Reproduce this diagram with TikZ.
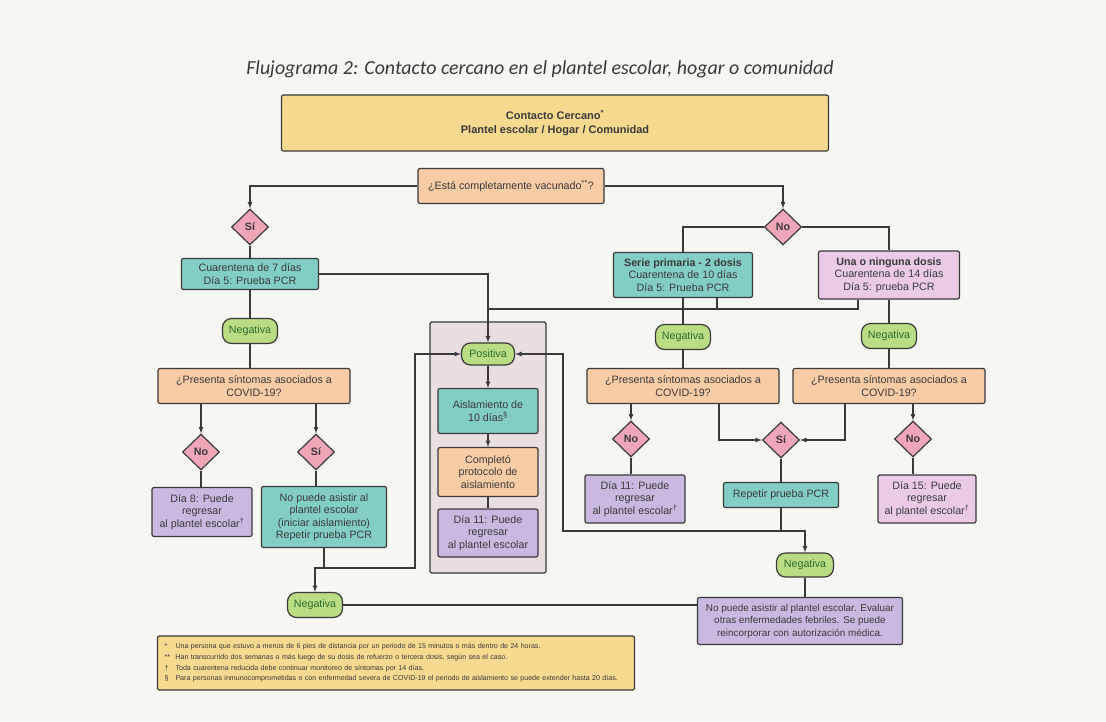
\documentclass[tikz,border=0pt]{standalone}
\usepackage{fontspec}
\setmainfont{Liberation Sans}
\newfontfamily\titlefont{Carlito}
\usetikzlibrary{shapes.geometric,positioning}

\definecolor{bgpaper}{HTML}{F6F6F3}
\definecolor{inkgray}{HTML}{3A3A3A}
\definecolor{yellowbox}{HTML}{F7D98F}
\definecolor{peachbox}{HTML}{F8CCA4}
\definecolor{tealbox}{HTML}{82CEC4}
\definecolor{pinkdia}{HTML}{EFA6B6}
\definecolor{greenpill}{HTML}{BADD84}
\definecolor{purplebox}{HTML}{C9B9E1}
\definecolor{pinkbox}{HTML}{EBCAE6}
\definecolor{graybox}{HTML}{E9DFE1}

\tikzstyle{block} = [rectangle, draw=inkgray, line width=1.2pt, rounded corners=2pt,
     align=center, text=inkgray, inner sep=2pt, font=\fontsize{10.7}{12.5}\selectfont]
\tikzstyle{decision} = [diamond, draw=inkgray, line width=1.2pt, fill=pinkdia, inner sep=0pt,
     minimum width=37pt, minimum height=36pt, text=inkgray, font=\bfseries\fontsize{10.7}{12.5}\selectfont]
\tikzstyle{pill} = [rectangle, draw=inkgray, line width=1.2pt, rounded corners=9pt, fill=greenpill,
     minimum width=55pt, minimum height=25pt, inner sep=1pt, text=green!25!inkgray, font=\fontsize{10.7}{12.5}\selectfont]
\tikzstyle{line} = [draw=inkgray, line width=1.2pt, -latex]
\tikzstyle{wire} = [draw=inkgray, line width=1.2pt]

\begin{document}
\begin{tikzpicture}[x=1pt, y=-1pt, node distance=57pt]
    \fill [bgpaper] (0,0) rectangle (1106,721);
    \useasboundingbox (0,0) rectangle (1106,721);

    % Title and top
    \node [text=inkgray] (title) at (540,69) {\titlefont\itshape\fontsize{19.9}{24}\selectfont Flujograma 2: Contacto cercano en el plantel escolar, hogar o comunidad};
    \node [block, fill=yellowbox, minimum width=547pt, minimum height=56pt, font=\bfseries\fontsize{11}{13.3}\selectfont] (contacto) at (555,123) {Contacto Cercano\textsuperscript{*}\\Plantel escolar / Hogar / Comunidad};
    \node [block, fill=peachbox, minimum width=186pt, minimum height=35pt] (vacunado) at (511,186) {¿Está completamente vacunado\textsuperscript{**}?};
    \node [decision] (si_top) at (250,227) {Sí};
    \node [decision] (no_top) at (783,227) {No};

    % Left column
    \node [block, fill=tealbox, minimum width=137pt, minimum height=31pt, below of=si_top, node distance=47pt] (cuar7) {Cuarentena de 7 días\\Día 5: Prueba PCR};
    \node [pill, below of=cuar7] (neg_a) {Negativa};
    \node [block, fill=peachbox, minimum width=192pt, minimum height=35pt] (sint_a) at (254,386) {¿Presenta síntomas asociados a\\COVID-19?};
    \node [decision] (no_a) at (201,452) {No};
    \node [decision] (si_a) at (316,452) {Sí};
    \node [block, fill=purplebox, minimum width=100pt, minimum height=49pt] (dia8) at (202,512) {Día 8: Puede\\regresar\\al plantel escolar\textsuperscript{†}};
    \node [block, fill=tealbox, minimum width=125pt, minimum height=61pt] (nopuede) at (324,517) {No puede asistir al\\plantel escolar\\(iniciar aislamiento)\\Repetir prueba PCR};
    \node [pill] (neg_d) at (315,605) {Negativa};

    % Middle column
    \node [rectangle, draw=inkgray, line width=1.2pt, rounded corners=2pt, fill=graybox, minimum width=116pt, minimum height=251pt] (caja) at (488,447.5) {};
    \node [pill, minimum width=53pt, minimum height=22pt] (positiva) at (488,354) {Positiva};
    \node [block, fill=tealbox, minimum width=100pt, minimum height=45pt, below of=positiva] (aislamiento) {Aislamiento de\\10 días\textsuperscript{§}};
    \node [block, fill=peachbox, minimum width=100pt, minimum height=49pt, below of=aislamiento, node distance=61pt] (completo) {Completó\\protocolo de\\aislamiento};
    \node [block, fill=purplebox, minimum width=100pt, minimum height=48pt, below of=completo, node distance=61pt] (dia11_c) {Día 11: Puede\\regresar\\al plantel escolar};

    % Right columns
    \node [block, fill=tealbox, minimum width=139pt, minimum height=45pt] (serie) at (683,275) {\textbf{Serie primaria - 2 dosis}\\Cuarentena de 10 días\\Día 5: Prueba PCR};
    \node [block, fill=pinkbox, minimum width=141pt, minimum height=48pt] (una) at (889,275) {\textbf{Una o ninguna dosis}\\Cuarentena de 14 días\\Día 5: prueba PCR};
    \node [pill, below of=serie, node distance=62pt] (neg_b) {Negativa};
    \node [pill, below of=una, node distance=61pt] (neg_c) {Negativa};
    \node [block, fill=peachbox, minimum width=192pt, minimum height=35pt, below of=neg_b, node distance=49pt] (sint_b) {¿Presenta síntomas asociados a\\COVID-19?};
    \node [block, fill=peachbox, minimum width=192pt, minimum height=35pt] (sint_c) at (889,386) {¿Presenta síntomas asociados a\\COVID-19?};
    \node [decision] (no_b) at (631,439) {No};
    \node [decision] (si_b) at (781,440) {Sí};
    \node [decision] (no_c) at (913,439) {No};
    \node [block, fill=purplebox, minimum width=100pt, minimum height=48pt] (dia11_b) at (635,499) {Día 11: Puede\\regresar\\al plantel escolar\textsuperscript{†}};
    \node [block, fill=tealbox, minimum width=115pt, minimum height=25pt, below of=si_b, node distance=55pt] (repetir) {Repetir prueba PCR};
    \node [block, fill=pinkbox, minimum width=98pt, minimum height=48pt] (dia15) at (927,499) {Día 15: Puede\\regresar\\al plantel escolar\textsuperscript{†}};
    \node [pill, minimum width=57pt, minimum height=24pt] (neg_e) at (805,565) {Negativa};
    \node [block, fill=purplebox, minimum width=205pt, minimum height=47pt, font=\fontsize{9.9}{12.5}\selectfont] (final) at (800,621) {No puede asistir al plantel escolar. Evaluar\\otras enfermedades febriles. Se puede\\reincorporar con autorización médica.};

    % Notes
    \node [block, fill=yellowbox, minimum width=477pt, minimum height=54pt, inner sep=7pt, text width=463pt, align=left, font=\fontsize{7.1}{10.6}\selectfont] (notas) at (396,663) {\makebox[11pt][l]{*}Una persona que estuvo a menos de 6 pies de distancia por un periodo de 15 minutos o más dentro de 24 horas.\\
    \makebox[11pt][l]{**}Han transcurrido dos semanas o más luego de su dosis de refuerzo o tercera dosis, según sea el caso.\\
    \makebox[11pt][l]{†}Toda cuarentena reducida debe continuar monitoreo de síntomas por 14 días.\\
    \makebox[11pt][l]{§}Para personas inmunocomprometidas o con enfermedad severa de COVID-19 el periodo de aislamiento se puede extender hasta 20 días.};

    % Junctions
    \coordinate (bus) at (488,309);
    \coordinate (split_a) at (324,568);
    \coordinate (bend_a) at (415,568);
    \coordinate (split_b) at (781,531);
    \coordinate (bend_b) at (563,531);

    % Draw edges
    \path [line] (vacunado.west) -| (si_top.north);
    \path [line] (vacunado.east) -| (no_top.north);
    \path [wire] (no_top.west) -| (serie.north);
    \path [wire] (no_top.east) -| (una.north);
    \path [wire] (si_top) -- (cuar7);
    \path [wire] (cuar7) -- (neg_a);
    \path [wire] (neg_a) -- (neg_a |- sint_a.north);
    \path [line] (cuar7.east) -| (positiva.north);
    \path [wire] ([xshift=34pt]serie.south) |- (bus);
    \path [wire] ([xshift=-31pt]una.south) |- (bus);
    \path [wire] (serie) -- (neg_b);
    \path [wire] (neg_b) -- (sint_b);
    \path [wire] (una) -- (neg_c);
    \path [wire] (neg_c) -- (sint_c);

    \path [line] (sint_a.south -| no_a) -- (no_a);
    \path [line] (sint_a.south -| si_a) -- (si_a);
    \path [wire] (no_a) -- (no_a |- dia8.north);
    \path [wire] (si_a) -- (si_a |- nopuede.north);
    \path [wire] (nopuede.south) -- (split_a);
    \path [line] (split_a) -| (neg_d.north);
    \path [line] (split_a) -- (bend_a) |- (positiva.west);

    \path [line] (positiva) -- (aislamiento);
    \path [line] (aislamiento) -- (completo);
    \path [wire] (completo) -- (dia11_c);

    \path [line] (sint_b.south -| no_b) -- (no_b);
    \path [wire] (no_b) -- (no_b |- dia11_b.north);
    \path [line] ([xshift=36pt]sint_b.south) |- (si_b.west);
    \path [line] ([xshift=-44pt]sint_c.south) |- (si_b.east);
    \path [line] (sint_c.south -| no_c) -- (no_c);
    \path [wire] (no_c) -- (no_c |- dia15.north);
    \path [wire] (si_b) -- (repetir);
    \path [wire] (repetir) -- (split_b);
    \path [line] (split_b) -- (bend_b) |- (positiva.east);
    \path [line] (split_b) -| (neg_e.north);
    \path [wire] (neg_e) -- (neg_e |- final.north);
    \path [wire] (neg_d.east) -- (neg_d.east -| final.west);

\end{tikzpicture}
\end{document}
